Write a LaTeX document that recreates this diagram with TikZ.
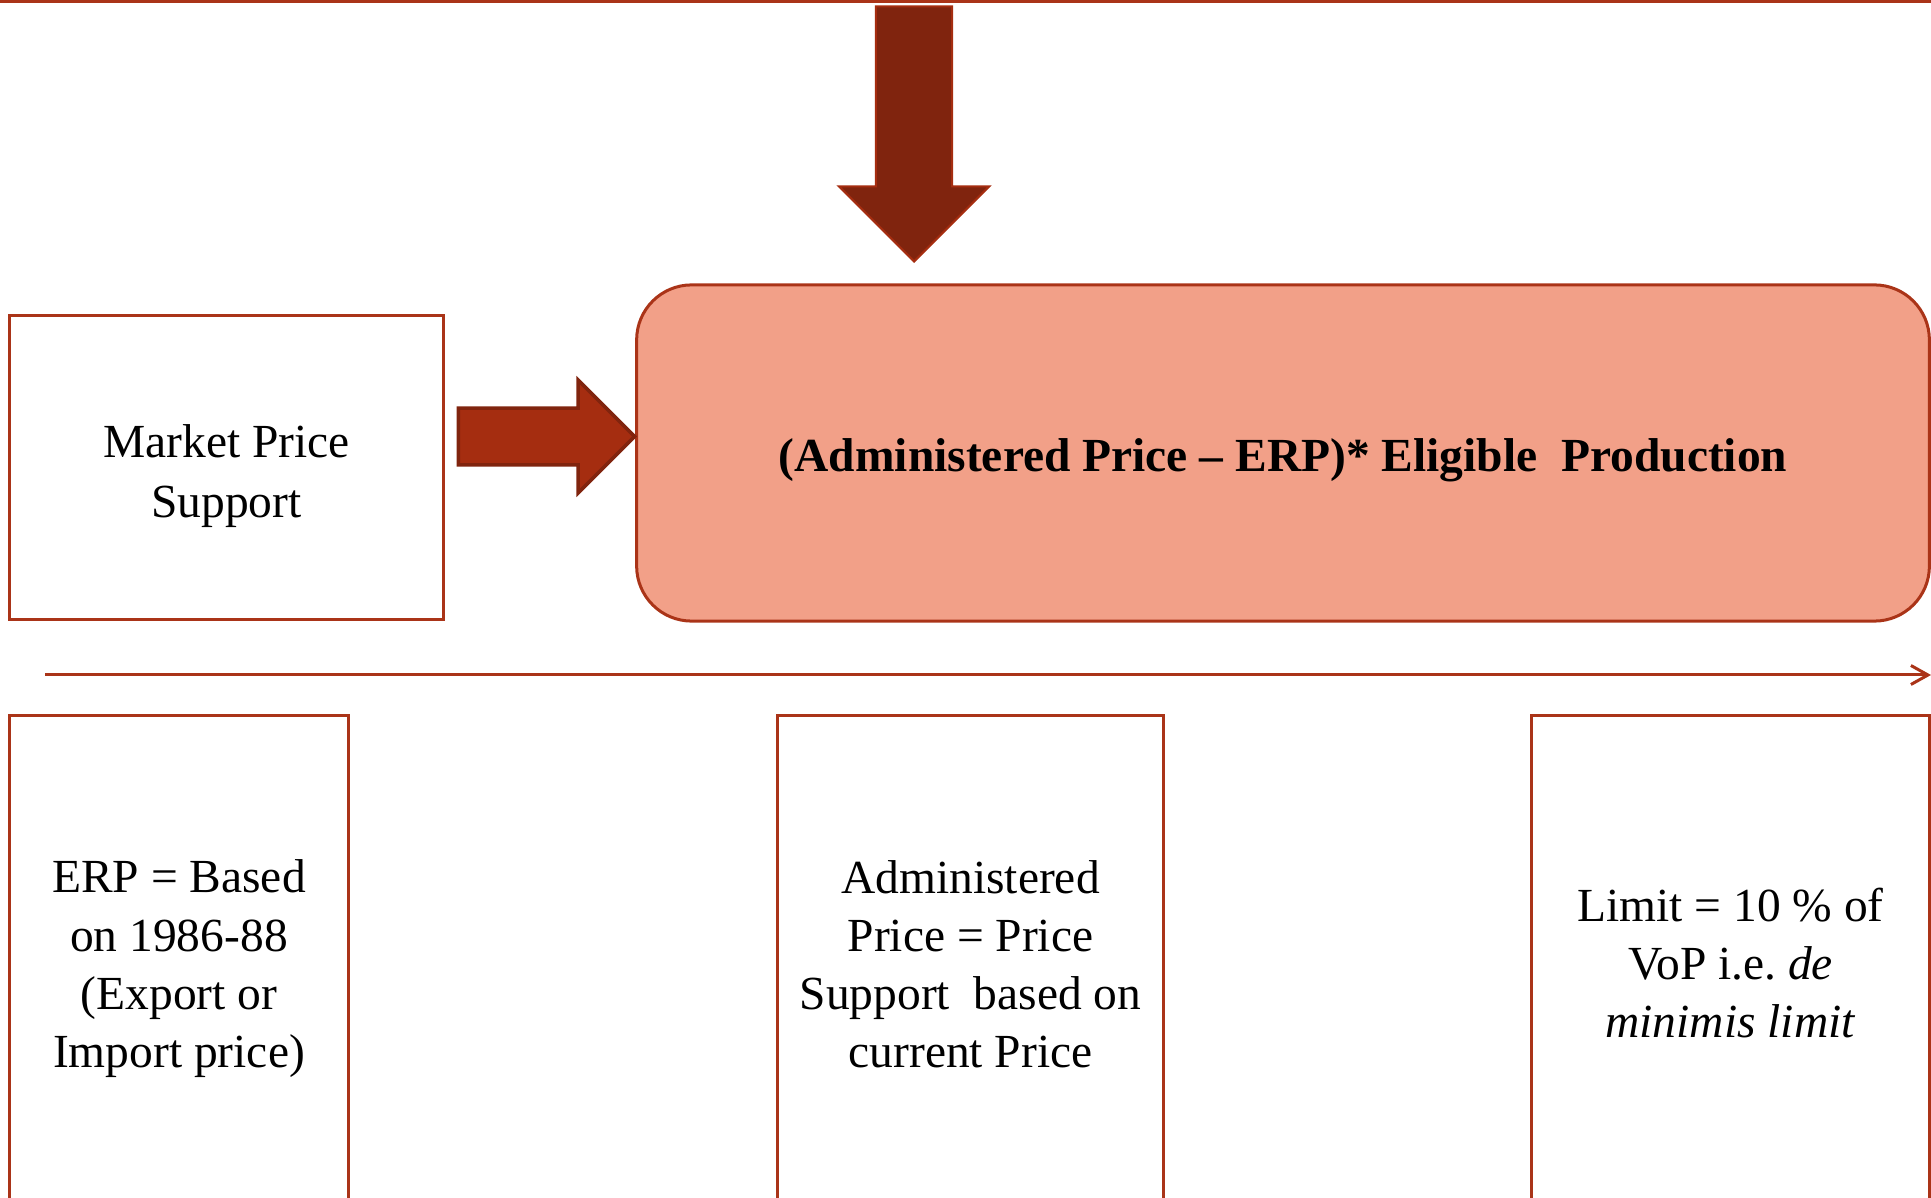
\documentclass[tikz,border=0pt]{standalone}
\usepackage{fontspec}
\setmainfont{Liberation Serif}
\usepackage{tikz}
\usetikzlibrary{shapes, shapes.arrows, arrows.meta, positioning}

\definecolor{rust}{RGB}{170,52,24}
\definecolor{darkrust}{RGB}{128,36,14}
\definecolor{brickred}{RGB}{165,45,16}
\definecolor{salmon}{RGB}{242,160,136}

\tikzset{
	txt/.style={font=\fontsize{13.5}{16.5}\selectfont, align=center, inner sep=0pt},
	box/.style={draw=rust, line width=0.03cm, inner sep=0pt},
	blockarrow/.style={single arrow, single arrow head indent=0pt, single arrow tip angle=90, inner sep=0pt, anchor=tip}
}

\begin{document}
\begin{tikzpicture}[x=0.01cm, y=-0.01cm]
			\clip (0,0) rectangle (1931,1198);
			\useasboundingbox (0,0) rectangle (1931,1198);
			\coordinate (TopLeft) at (0,1.5);
			\coordinate (TopRight) at (1931,1.5);
			\draw[rust, line width=0.03cm] (TopLeft) -- (TopRight);
			\node[box, minimum width=4.33cm, minimum height=3.03cm] (MPS) at (226.5,467.5) {};
			\node[txt, font=\fontsize{13.5}{17.1}\selectfont] (MPSText) at (226.5,476) {Market Price\\Support};
			\node[box, fill=salmon, rounded corners=0.55cm, minimum width=12.92cm, minimum height=3.36cm] (Formula) at (1283,453) {};
			\node[txt] (FormulaText) at (1283,460.4) {\textbf{(Administered Price -- ERP)* Eligible\ \ Production}};
			\node[blockarrow, fill=darkrust, draw=brickred, line width=0.6pt, rotate=-90, minimum height=2.55cm, minimum width=1.48cm, single arrow head extend=0.37cm] (DownArrow) at (914,263) {\rule{0pt}{0.74cm}};
			\node[blockarrow, fill=brickred, draw=darkrust, line width=1pt, minimum height=1.76cm, minimum width=1.09cm, single arrow head extend=0.28cm] (RightArrow) at (637,436.5) {\rule{0pt}{0.53cm}};
			\coordinate (LineStart) at (45,675);
			\coordinate (LineEnd) at (1931,675);
			\draw[rust, line width=0.03cm, -{Straight Barb[length=0.17cm, width=0.19cm]}] (LineStart) -- (LineEnd);
			\node[box, minimum width=3.38cm, minimum height=5.14cm] (ERP) at (179,973) {};
			\node[txt] (ERPText) at (179,968.6) {ERP = Based\\on 1986-88\\(Export or\\Import price)};
			\node[box, minimum width=3.85cm, minimum height=5.14cm] (Admin) at (970.5,973) {};
			\node[txt] (AdminText) at (970.5,964.2) {Administered\\Price = Price\\Support\ \ based on\\current Price};
			\node[box, minimum width=3.97cm, minimum height=5.14cm] (Limit) at (1730.5,973) {};
			\node[txt] (LimitText) at (1730.5,963) {Limit = 10 \% of\\VoP i.e.\ \textit{de}\\\textit{minimis limit}};
		\end{tikzpicture}
\end{document}
